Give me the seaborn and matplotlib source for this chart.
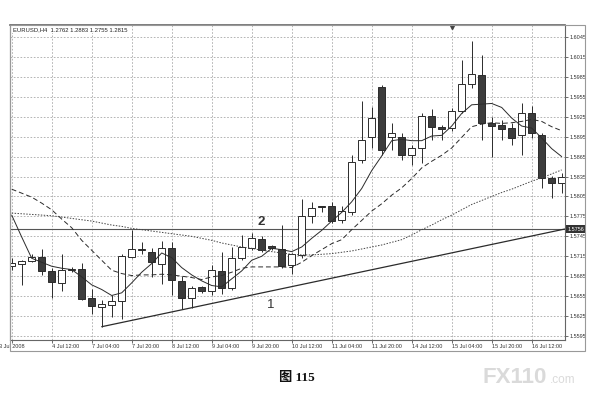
import numpy as np
import pandas as pd
import matplotlib
matplotlib.use("Agg")
import matplotlib.pyplot as plt
import matplotlib.transforms as mtransforms
from matplotlib.patches import Rectangle
import seaborn as sns

# EURUSD H4 bars, bar 0 = 3 Jul 2008 20:00
OPEN = [1.5700, 1.5704, 1.5708, 1.5714, 1.5693, 1.5675, 1.5694, 1.5696, 1.5652, 1.5638,
        1.5642, 1.5647, 1.5714, 1.5726, 1.5722, 1.5704, 1.5727, 1.5678, 1.5652, 1.5669,
        1.5663, 1.5693, 1.5668, 1.5713, 1.5727, 1.5741, 1.5730, 1.5726, 1.5702, 1.5717,
        1.5775, 1.5790, 1.5791, 1.5770, 1.5782, 1.5860, 1.5894, 1.5970, 1.5895, 1.5895,
        1.5867, 1.5878, 1.5926, 1.5909, 1.5908, 1.5933, 1.5975, 1.5988, 1.5916, 1.5913,
        1.5908, 1.5898, 1.5930, 1.5897, 1.5833, 1.5825]
HIGH = [1.5712, 1.5710, 1.5718, 1.5726, 1.5698, 1.5718, 1.5699, 1.5705, 1.5666, 1.5649,
        1.5657, 1.5718, 1.5755, 1.5736, 1.5727, 1.5738, 1.5737, 1.5685, 1.5670, 1.5671,
        1.5702, 1.5721, 1.5729, 1.5747, 1.5750, 1.5745, 1.5732, 1.5762, 1.5720, 1.5801,
        1.5797, 1.5791, 1.5797, 1.5790, 1.5867, 1.5948, 1.5940, 1.5973, 1.5915, 1.5900,
        1.5882, 1.5930, 1.5936, 1.5912, 1.5938, 1.6010, 1.6039, 1.6018, 1.5925, 1.5920,
        1.5915, 1.5945, 1.5941, 1.5900, 1.5836, 1.5840]
LOW = [1.5695, 1.5672, 1.5706, 1.5687, 1.5652, 1.5662, 1.5692, 1.5649, 1.5628, 1.5609,
       1.5624, 1.5621, 1.5712, 1.5719, 1.5684, 1.5674, 1.5657, 1.5635, 1.5637, 1.5660,
       1.5657, 1.5658, 1.5664, 1.5709, 1.5724, 1.5722, 1.5725, 1.5697, 1.5689, 1.5712,
       1.5765, 1.5782, 1.5765, 1.5765, 1.5777, 1.5855, 1.5878, 1.5867, 1.5875, 1.5860,
       1.5852, 1.5855, 1.5890, 1.5890, 1.5904, 1.5930, 1.5968, 1.5890, 1.5864, 1.5890,
       1.5882, 1.5867, 1.5893, 1.5818, 1.5803, 1.5810]
CLOSE = [1.5705, 1.5708, 1.5714, 1.5693, 1.5677, 1.5694, 1.5696, 1.5651, 1.5640, 1.5643,
         1.5648, 1.5716, 1.5726, 1.5724, 1.5707, 1.5728, 1.5679, 1.5652, 1.5667, 1.5662,
         1.5694, 1.5668, 1.5713, 1.5729, 1.5742, 1.5725, 1.5727, 1.5700, 1.5718, 1.5776,
         1.5787, 1.5789, 1.5768, 1.5783, 1.5857, 1.5890, 1.5923, 1.5875, 1.5901, 1.5867,
         1.5878, 1.5926, 1.5909, 1.5907, 1.5933, 1.5975, 1.5989, 1.5915, 1.5911, 1.5906,
         1.5893, 1.5931, 1.5900, 1.5833, 1.5826, 1.5835]

# moving average lines
MA_FAST = [1.5777, 1.5744, 1.5712, 1.5706, 1.5700, 1.5697, 1.5695, 1.5684, 1.5672, 1.5665,
           1.5656, 1.5660, 1.5675, 1.5691, 1.5704, 1.5720, 1.5713, 1.5698, 1.5687, 1.5678,
           1.5671, 1.5669, 1.5681, 1.5693, 1.5709, 1.5715, 1.5727, 1.5725, 1.5722, 1.5729,
           1.5742, 1.5754, 1.5768, 1.5781, 1.5797, 1.5817, 1.5844, 1.5866, 1.5889, 1.5891,
           1.5889, 1.5889, 1.5896, 1.5897, 1.5911, 1.5930, 1.5943, 1.5944, 1.5945, 1.5939,
           1.5923, 1.5911, 1.5908, 1.5893, 1.5877, 1.5865]
MA_MID = [1.5816, 1.5810, 1.5804, 1.5795, 1.5785, 1.5771, 1.5758, 1.5739, 1.5724, 1.5709,
          1.5694, 1.5689, 1.5686, 1.5687, 1.5687, 1.5688, 1.5687, 1.5685, 1.5683, 1.5680,
          1.5684, 1.5686, 1.5691, 1.5697, 1.5699, 1.5699, 1.5699, 1.5699, 1.5698, 1.5706,
          1.5716, 1.5725, 1.5734, 1.5740, 1.5755, 1.5769, 1.5783, 1.5794, 1.5807, 1.5818,
          1.5832, 1.5848, 1.5858, 1.5867, 1.5878, 1.5894, 1.5910, 1.5914, 1.5916, 1.5915,
          1.5916, 1.5918, 1.5921, 1.5918, 1.5910, 1.5904]
MA_SLOW = [1.5780, 1.5779, 1.5778, 1.5777, 1.5776, 1.5774, 1.5772, 1.5770, 1.5768, 1.5765,
           1.5762, 1.5760, 1.5757, 1.5755, 1.5753, 1.5751, 1.5749, 1.5747, 1.5745, 1.5742,
           1.5739, 1.5735, 1.5732, 1.5729, 1.5727, 1.5724, 1.5722, 1.5720, 1.5718, 1.5717,
           1.5717, 1.5718, 1.5719, 1.5721, 1.5723, 1.5726, 1.5729, 1.5732, 1.5736, 1.5740,
           1.5747, 1.5755, 1.5762, 1.5770, 1.5777, 1.5785, 1.5793, 1.5799, 1.5805, 1.5811,
           1.5816, 1.5822, 1.5828, 1.5833, 1.5839, 1.5845]

TICK_BARS = [0, 4, 8, 12, 16, 20, 24, 28, 32, 36, 40, 44, 48, 52]
TICK_LABELS = ["3 Jul 2008", "4 Jul 12:00", "7 Jul 04:00", "7 Jul 20:00", "8 Jul 12:00",
               "9 Jul 04:00", "9 Jul 20:00", "10 Jul 12:00", "11 Jul 04:00", "11 Jul 20:00",
               "14 Jul 12:00", "15 Jul 04:00", "15 Jul 20:00", "16 Jul 12:00"]
PRICE_TICKS = [1.5595, 1.5625, 1.5655, 1.5685, 1.5715, 1.5745, 1.5775, 1.5805,
               1.5835, 1.5865, 1.5895, 1.5925, 1.5955, 1.5985, 1.6015, 1.6045]

HLINE_PRICE = 1.5756
TREND_BARS = [9, 55.3]
TREND_PRICES = [1.5609, 1.5756]
NOTES = [("2", 24.9, 1.5767), ("1", 25.9, 1.5642)]
SHIFT_MARK_BAR = 44
HEADER = "EURUSD,H4  1.2762 1.2883 1.2755 1.2815"

INK = "#2b2b2b"
W, H = 608, 415

sns.set_theme(style="white")
plt.rcParams["font.family"] = ["Liberation Sans", "DejaVu Sans"]

fig = plt.figure(figsize=(W / 100, H / 100), dpi=100)
fig.patch.set_facecolor("white")
ax = fig.add_axes([10 / W, (H - 340) / H, 555 / W, 315 / H])
ax.set_facecolor("white")

df = pd.DataFrame({"bar": np.arange(len(CLOSE)), "open": OPEN, "high": HIGH,
                   "low": LOW, "close": CLOSE})
up = (df["close"] >= df["open"]).values
body_lo = np.minimum(df["open"], df["close"]).values
body_h = np.maximum(np.abs(df["close"] - df["open"]).values, 0.00008)

# grid
ax.set_xticks(TICK_BARS)
ax.set_yticks(PRICE_TICKS)
ax.grid(True, linestyle=(0, (2, 2)), color="#a8a8a8", lw=0.6, zorder=0)

# wicks and bodies
ax.vlines(df["bar"], df["low"], df["high"], color=INK, lw=0.7, zorder=3)
ax.bar(df["bar"][up], body_h[up], bottom=body_lo[up], width=0.68,
       facecolor="white", edgecolor=INK, linewidth=0.7, zorder=4)
ax.bar(df["bar"][~up], body_h[~up], bottom=body_lo[~up], width=0.68,
       facecolor="#3c3c3c", edgecolor=INK, linewidth=0.7, zorder=4)

# moving averages
bars = df["bar"]
sns.lineplot(x=bars, y=MA_FAST, ax=ax, color=INK, lw=0.7, legend=False, zorder=5)
sns.lineplot(x=bars, y=MA_MID, ax=ax, color=INK, lw=0.7, linestyle=(0, (5, 3)),
             legend=False, zorder=5)
sns.lineplot(x=bars, y=MA_SLOW, ax=ax, color="#444444", lw=0.7, linestyle=(0, (1.5, 1.5)),
             legend=False, zorder=5)

# horizontal level and trend line
ax.axhline(HLINE_PRICE, color="#555555", lw=0.8, zorder=2)
ax.plot(TREND_BARS, TREND_PRICES, color=INK, lw=0.9, zorder=5)

for txt, bx, py in NOTES:
    ax.text(bx, py, txt, ha="center", va="center", fontsize=9.5, color="#333333",
            fontweight="bold" if txt == "2" else "normal", zorder=6)

ax.set_xlim(-0.17, 55.33)
ax.set_ylim(1.55890, 1.60631)
ax.set_xlabel("")
ax.set_ylabel("")

# axes styling
for s in ax.spines.values():
    s.set_color("#666666")
    s.set_linewidth(0.8)
ax.spines["top"].set_linewidth(1.2)
ax.yaxis.tick_right()
ax.set_yticklabels([f"{p:.4f}" for p in PRICE_TICKS])
ax.set_xticklabels(TICK_LABELS)
ax.tick_params(axis="both", labelsize=4.0, length=2, width=0.5, pad=1,
               colors="#333333", direction="out")
ax.tick_params(axis="y", right=True, left=False)
ax.tick_params(axis="x", bottom=True)
for i, lbl in enumerate(ax.get_xticklabels()):
    lbl.set_ha("center" if i == 0 else "left")

# current level box on price scale
blend = mtransforms.blended_transform_factory(ax.transAxes, ax.transData)
ax.text(1.004, HLINE_PRICE, f"{HLINE_PRICE:.4f}", transform=blend, ha="left",
        va="center", fontsize=4.0, color="white", zorder=7, clip_on=False,
        bbox=dict(boxstyle="square,pad=0.25", fc="#333333", ec="none"))

# shift marker at the top
blend_x = mtransforms.blended_transform_factory(ax.transData, ax.transAxes)
ax.plot([SHIFT_MARK_BAR], [0.995], marker="v", ms=3, color="#444444",
        transform=blend_x, clip_on=False, zorder=7)

# header
ax.text(0.006, 0.994, HEADER, transform=ax.transAxes, ha="left", va="top",
        fontsize=4.2, color="#222222", zorder=8,
        bbox=dict(boxstyle="square,pad=0.2", fc="white", ec="none"))

# outer frame
fig.add_artist(Rectangle((10 / W, (H - 351) / H), 575 / W, 326 / H,
                         transform=fig.transFigure, fill=False, ec="#999999", lw=0.8))

# caption and watermark
fig.text(296.5 / W, 1 - 378 / H, "图 115", ha="center", va="center", fontsize=9.5,
         fontweight="bold", color="#111111",
         family=["Liberation Serif", "Noto Sans CJK SC"])
fig.text(483 / W, 1 - 383 / H, "FX110", ha="left", va="baseline", fontsize=16,
         fontweight="bold", color="#dadada")
fig.text(550 / W, 1 - 383 / H, ".com", ha="left", va="baseline", fontsize=8.5,
         color="#dadada")

fig.savefig("out.png", dpi=100, facecolor="white")
